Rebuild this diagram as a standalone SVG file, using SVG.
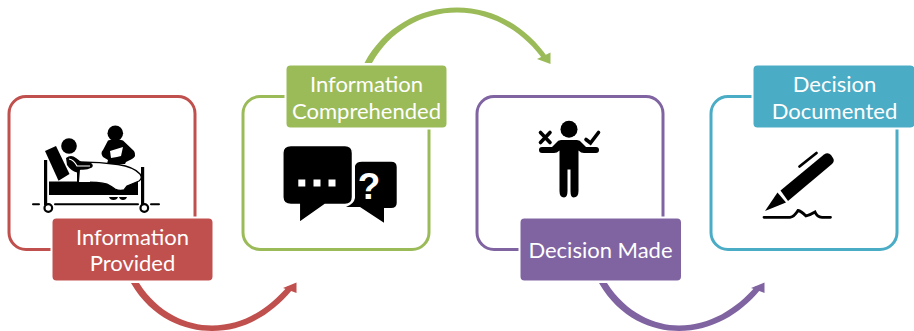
<svg xmlns="http://www.w3.org/2000/svg" width="914" height="331" viewBox="0 0 914 331">
<style>
.box{fill:#fff;stroke-width:3}
.lab{stroke:#fff;stroke-width:2}
.t{fill:#fff;font-family:Lato,"Open Sans",sans-serif;font-size:22px;text-anchor:middle}
.ink{fill:#000}
.line{fill:none;stroke:#000;stroke-linecap:round}
.white{fill:#fff}
</style>
<g id="connectors">
<path fill="#C0504D" d="M131,283 H139 C158,313 187,325.500 212,325.500 C243,325.500 268,309 288,286 L292,290 C272,314 245,331 212,331 C185,331 152,319 131,283 Z"/>
<path fill="#C0504D" d="M296.500,282.500 L296.500,293 L283,288 Z"/>
<path fill="#9BBB59" d="M364.500,63 C383,28 419,7.500 457,7.500 C495,7.500 528,28 548,58 L544,61 C525,33 493,12.500 457,12.500 C422,12.500 390,31 372,63 Z"/>
<path fill="#9BBB59" d="M550.500,64 L537,59 L550.500,52.500 Z"/>
<path fill="#8064A2" d="M599,283 H607 C626,313 655,325.500 679,325.500 C710,325.500 736,309 756,286 L760,290 C740,314 712,331 679,331 C652,331 620,319 599,283 Z"/>
<path fill="#8064A2" d="M764.500,282.500 L764.500,293 L751,288 Z"/>
</g>
<g id="node-provided">
<rect class="box" stroke="#C0504D" x="9" y="96.500" width="186" height="153" rx="17"/>
<g id="icon-patient">
<circle class="ink" cx="115.300" cy="133.300" r="7.800"/>
<path class="ink" d="M108,140.500 Q115.500,138 123,140.500 L134,151 Q137,156 132,159 L126,162 L125,164 L107,164 L108,160 L103,157 Q100,153 103,150 Z"/>
<path class="white" d="M110,151 L123,147 L121,156 L117,157 L111,158 Z"/>
<circle class="ink" cx="69" cy="146" r="7.800"/>
<path class="ink" d="M45,151 L56,146 L69.500,174 L58.500,180.700 Z"/>
<path class="ink" d="M44,160 h3.200 v45 h-3.200 z M141,167 h3.200 v38 h-3.200 z"/>
<path class="line" stroke-width="2" d="M33,204.300 H39 M55,204.300 H138 M151,204.300 H159"/>
<circle cx="48.300" cy="208" r="3.800" fill="#fff" stroke="#000" stroke-width="2.200"/>
<circle cx="144.300" cy="208" r="3.800" fill="#fff" stroke="#000" stroke-width="2.200"/>
<path class="ink" d="M49,181.500 H138 V195 H49 Z"/>
<path class="ink" d="M109,197 h9 q-1,3 -4.500,3 q-3.500,0 -4.500,-3 z M119,197 h8 q-1,3 -4,3 q-3,0 -4,-3 z"/>
<path class="white" stroke="#000" stroke-width="1.300" d="M80,162 Q100,162 118,164.500 Q134,167 140,174 Q143,178 139,181 Q132,184 127,186 L124,190 Q119,191 115,189 Q111,186 107,184 Q100,182 80,182 Z"/>
<path fill="#fff" d="M78,170 H90 V182 H78 Z"/>
<path class="ink" d="M66,158 Q71,154 76,158 L82,162.500 L91,163 Q94,165 92,167.500 Q86,170.500 80,169.500 L79,182 L77,182 L77,172.500 Q71,171 67,165 Z"/>
<path fill="none" stroke="#fff" stroke-width="1.100" d="M69,159 Q74,160 77,166 L90,166"/>
</g>
<rect class="lab" fill="#C0504D" x="51.500" y="217.500" width="162" height="64" rx="5"/>
<text class="t" x="132.500" y="245">Information</text>
<text class="t" x="132.500" y="271">Provided</text>
</g>
<g id="node-comprehended">
<rect class="box" stroke="#9BBB59" x="243" y="96.500" width="186" height="153" rx="17"/>
<g id="icon-speech">
<path class="ink" d="M362,161.700 H391 Q396.700,161.700 396.700,167 V203 Q396.700,208 391,208 H384 V222.700 L360,207 L346,207 Q354,204 355,198 V166 Q356,161.700 362,161.700 Z"/>
<path class="ink" stroke="#fff" stroke-width="1.500" d="M291,145.500 H345 Q352.500,145.500 352.500,153 V197 Q352.500,204.500 345,204.500 H325 L299.300,222.700 V204.500 H291 Q282.800,204.500 282.800,197 V153 Q282.800,145.500 291,145.500 Z"/>
<path class="white" d="M298.300,179.500 h7 v7 h-7 z M313.500,179.500 h7 v7 h-7 z M328.500,179.500 h7 v7 h-7 z"/>
<text x="369" y="198.500" font-family="Liberation Sans,sans-serif" font-weight="700" font-size="37" text-anchor="middle" fill="#fff">?</text>
</g>
<rect class="lab" fill="#9BBB59" x="285.500" y="64.500" width="162" height="64" rx="5"/>
<text class="t" x="366.500" y="92">Information</text>
<text class="t" x="366.500" y="118.500">Comprehended</text>
</g>
<g id="node-made">
<rect class="box" stroke="#8064A2" x="477" y="96.500" width="186" height="153" rx="17"/>
<g id="icon-decision">
<circle class="ink" cx="569" cy="129.300" r="8.500"/>
<path class="ink" d="M561,140 H577 Q580,140 582,143 L586,147 H596 Q599,147 599,150 Q599,153 596,153 H584 Q581,153 578.500,150.500 V191 Q578.500,197.500 573.500,197.500 Q570.500,197.500 570.500,191 V169.500 H567.500 V191 Q567.500,197.500 564,197.500 Q559.500,197.500 559.500,191 V150.500 Q557,153 554,153 H542 Q539,153 539,150 Q539,147 542,147 H552 L556,143 Q558,140 561,140 Z"/>
<path class="line" stroke-width="3.600" stroke-linecap="butt" d="M540.500,132.500 L550,142.500 M550,132.500 L540.500,142.500"/>
<path class="line" stroke-width="3.600" d="M586,139.500 L590.500,143 L598.500,132.500"/>
</g>
<rect class="lab" fill="#8064A2" x="519.500" y="217.500" width="162.500" height="64" rx="5"/>
<text class="t" x="600.500" y="258">Decision Made</text>
</g>
<g id="node-documented">
<rect class="box" stroke="#4BACC6" x="711" y="96.500" width="186" height="153" rx="17"/>
<g id="icon-pen">
<path class="ink" d="M780.500,190.500 L824,154.500 Q828,152 831,155 L833,158 Q835,161 832,164 L788,201 Z"/>
<path class="ink" d="M777.500,192.500 L786,202.500 L765,211 Z"/>
<path class="line" stroke-width="2.800" d="M799.500,166.500 L816.500,153"/>
<path class="line" stroke-width="2.800" d="M764,217.300 H790 Q794,217 798,210.500 Q801,211 806,216 Q810,215 815,212 Q817,217 822,217.300 H830.500"/>
</g>
<rect class="lab" fill="#4BACC6" x="752.500" y="64.500" width="163" height="64" rx="5"/>
<text class="t" x="834.500" y="92">Decision</text>
<text class="t" x="834.500" y="118.500">Documented</text>
</g>
</svg>
